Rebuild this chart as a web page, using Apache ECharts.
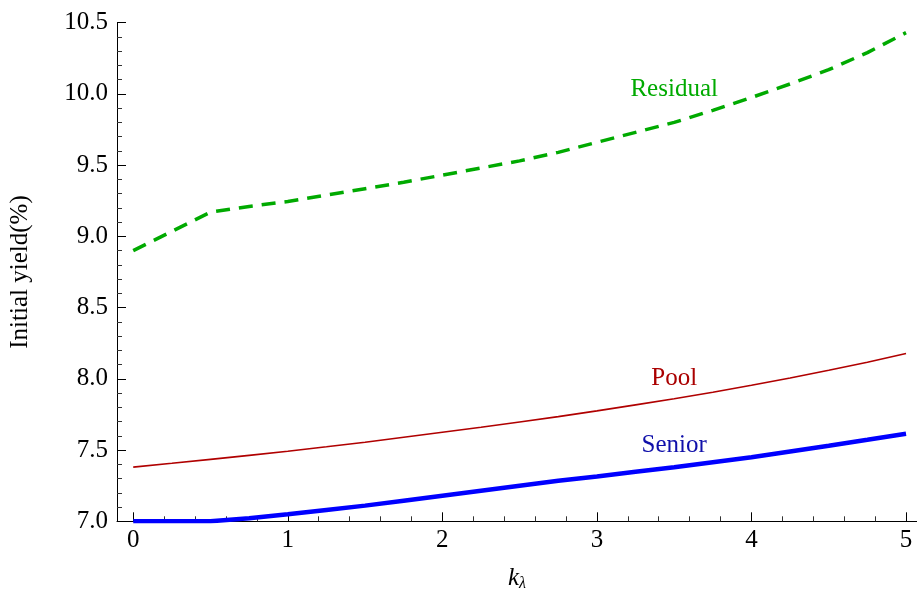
<!DOCTYPE html>
<html>
<head>
<meta charset="utf-8">
<script src="https://cdn.jsdelivr.net/npm/echarts@6/dist/echarts.min.js"></script>
<style>html,body{margin:0;padding:0;background:#fff}#c{width:917px;height:598px}</style>
</head>
<body>
<div id="c"></div>
<script>
// ---- data ----
const xValues   = [0, 0.25, 0.5, 0.75, 1, 1.25, 1.5, 1.75, 2, 2.25, 2.5, 2.75, 3, 3.25, 3.5, 3.75, 4, 4.25, 4.5, 4.75, 5];
const residual  = [8.90, 9.035, 9.17, 9.21, 9.245, 9.29, 9.335, 9.38, 9.43, 9.48, 9.53, 9.59, 9.66, 9.73, 9.80, 9.885, 9.975, 10.07, 10.17, 10.29, 10.43];
const pool      = [7.38, 7.407, 7.435, 7.463, 7.492, 7.523, 7.555, 7.59, 7.625, 7.66, 7.697, 7.735, 7.775, 7.817, 7.86, 7.906, 7.955, 8.006, 8.06, 8.117, 8.178];
const senior    = [7.0, 7.0, 7.0, 7.022, 7.05, 7.08, 7.11, 7.145, 7.18, 7.215, 7.25, 7.285, 7.315, 7.348, 7.38, 7.415, 7.45, 7.49, 7.53, 7.572, 7.615];
const seriesNames = ['Residual', 'Pool', 'Senior'];
const xMajorTicks = [0, 1, 2, 3, 4, 5];
const xMinorTicks = [0.2,0.4,0.6,0.8,1.2,1.4,1.6,1.8,2.2,2.4,2.6,2.8,3.2,3.4,3.6,3.8,4.2,4.4,4.6,4.8];
// label anchor points in data coordinates
const labelAnchors = {Residual: [3.5, 10.03], Pool: [3.5, 8.0], Senior: [3.5, 7.53]};

const FONT = '"Liberation Serif", "DejaVu Serif", serif';
const pair = (ys) => xValues.map((x, i) => [x, ys[i]]);
const lbl = (name, color) => ({
  symbol: 'circle', symbolSize: 0, silent: true,
  data: [{coord: labelAnchors[name]}],
  label: {show: true, formatter: name, position: [0, 0], align: 'center', verticalAlign: 'middle',
          color: color, fontFamily: FONT, fontSize: 25},
  itemStyle: {color: 'transparent'}
});

const chart = echarts.init(document.getElementById('c'), null, {renderer: 'canvas'});
const XMIN = -0.105, XMAX = 5.071;
chart.setOption({
  animation: false,
  backgroundColor: '#fff',
  grid: {left: 115.7, right: 0, top: 22.7, bottom: 76.7, containLabel: false},
  xAxis: [{
    type: 'value', min: XMIN, max: XMAX,
    name: '{k|k}{s|λ}', nameLocation: 'middle', nameGap: 44,
    nameTextStyle: {rich: {
      k: {fontFamily: FONT, fontStyle: 'italic', fontSize: 25, color: '#000', verticalAlign: 'bottom'},
      s: {fontFamily: FONT, fontStyle: 'italic', fontSize: 16, color: '#000', padding: [10, 0, 0, 0]}
    }},
    axisLine: {show: true, onZero: false, lineStyle: {color: '#000', width: 1}},
    axisTick: {show: true, inside: true, length: 9, customValues: xMajorTicks, lineStyle: {color: '#000'}},
    axisLabel: {show: true, customValues: xMajorTicks, margin: 7, color: '#000', fontFamily: FONT, fontSize: 25,
                formatter: v => String(Math.round(v))},
    splitLine: {show: false}
  }, {
    type: 'value', min: XMIN, max: XMAX, position: 'bottom', gridIndex: 0,
    axisLine: {show: false},
    axisTick: {show: true, inside: true, length: 5, customValues: xMinorTicks, lineStyle: {color: '#333'}},
    axisLabel: {show: false}, splitLine: {show: false}
  }],
  yAxis: {
    type: 'value', min: 7.0, max: 10.5, interval: 0.5,
    name: 'Initial yield(%)', nameLocation: 'middle', nameGap: 84, nameRotate: 90,
    nameTextStyle: {fontFamily: FONT, fontSize: 25, color: '#000'},
    axisLine: {show: true, onZero: false, lineStyle: {color: '#000', width: 1}},
    axisTick: {show: true, inside: true, length: 9, lineStyle: {color: '#000'}},
    minorTick: {show: true, splitNumber: 5, length: 5, lineStyle: {color: '#333'}},
    axisLabel: {margin: 9, color: '#000', fontFamily: FONT, fontSize: 25, formatter: v => v.toFixed(1)},
    splitLine: {show: false}, minorSplitLine: {show: false}
  },
  series: [
    {name: seriesNames[0], type: 'line', data: pair(residual), showSymbol: false, smooth: false,
     lineStyle: {color: '#00aa00', width: 3.5, type: [14, 9]}, markPoint: lbl('Residual', '#00aa00')},
    {name: seriesNames[1], type: 'line', data: pair(pool), showSymbol: false, smooth: false,
     lineStyle: {color: '#b00000', width: 1.6}, markPoint: lbl('Pool', '#aa0000')},
    {name: seriesNames[2], type: 'line', data: pair(senior), showSymbol: false, smooth: false,
     lineStyle: {color: '#0000ff', width: 4.5}, markPoint: lbl('Senior', '#1010aa')}
  ]
});
</script>
</body>
</html>
